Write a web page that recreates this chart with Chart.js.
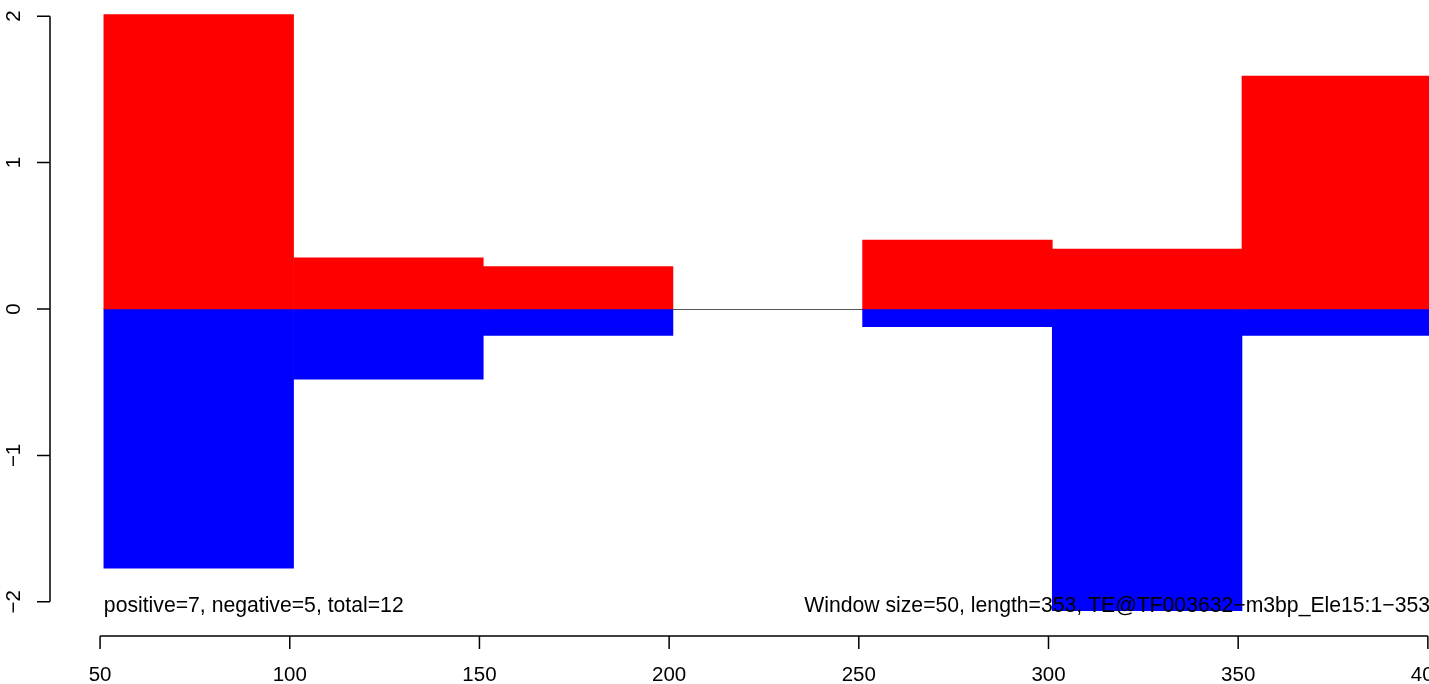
<!DOCTYPE html>
<html>
<head>
<meta charset="utf-8">
<script src="https://cdn.jsdelivr.net/npm/chart.js@4"></script>
<style>
  html, body { margin: 0; padding: 0; background: #fff; }
  #wrap { width: 1429px; height: 684px; }
</style>
</head>
<body>
<div id="wrap"><canvas id="myChart" width="1429" height="684"></canvas></div>
<script>
// windows of 50 bp
const windowStarts = [51, 101, 151, 201, 251, 301, 351];
const windowSize = 50;
const positiveVals = [2.01, 0.35, 0.29, 0, 0.47, 0.41, 1.59];
const negativeVals = [-1.77, -0.48, -0.18, 0, -0.12, -2.06, -0.18];
const xTicks = [50, 100, 150, 200, 250, 300, 350, 400];
const yTicks = [-2, -1, 0, 1, 2];
const leftNote = 'positive=7, negative=5, total=12';
const rightNote = 'Window size=50, length=353, TE@TF003632\u2212m3bp_Ele15:1\u2212353';

const TICK_FONT = '20.5px "Liberation Sans", Arial, sans-serif';
const NOTE_FONT = '21.2px "Liberation Sans", Arial, sans-serif';
const centres = windowStarts.map(s => s + windowSize / 2);

// R-style axes, zero line and notes
const rStyle = {
  id: 'rStyle',
  beforeDatasetsDraw(chart) {
    const ctx = chart.ctx, x = chart.scales.x, y = chart.scales.y;
    const y0 = Math.round(y.getPixelForValue(0)) + 0.5;
    ctx.save();
    ctx.strokeStyle = '#555';
    ctx.lineWidth = 1;
    ctx.beginPath();
    ctx.moveTo(x.getPixelForValue(windowStarts[0]), y0);
    ctx.lineTo(x.getPixelForValue(windowStarts[windowStarts.length - 1] + windowSize), y0);
    ctx.stroke();
    ctx.restore();
  },
  afterDatasetsDraw(chart) {
    const ctx = chart.ctx, x = chart.scales.x, y = chart.scales.y;
    ctx.save();
    ctx.strokeStyle = '#000';
    ctx.fillStyle = '#000';
    ctx.lineWidth = 1.5;
    ctx.font = TICK_FONT;

    // y axis
    const ax = 50;
    ctx.beginPath();
    ctx.moveTo(ax, y.getPixelForValue(yTicks[0]));
    ctx.lineTo(ax, y.getPixelForValue(yTicks[yTicks.length - 1]));
    yTicks.forEach(t => {
      const py = y.getPixelForValue(t);
      ctx.moveTo(ax, py);
      ctx.lineTo(ax - 13, py);
    });
    ctx.stroke();
    yTicks.forEach(t => {
      const py = y.getPixelForValue(t);
      ctx.save();
      ctx.translate(14, py);
      ctx.rotate(-Math.PI / 2);
      ctx.textAlign = 'center';
      ctx.textBaseline = 'middle';
      ctx.fillText(t < 0 ? '\u2212' + Math.abs(t) : String(t), 0, 0);
      ctx.restore();
    });

    // x axis
    const ay = 636;
    ctx.beginPath();
    ctx.moveTo(x.getPixelForValue(xTicks[0]), ay);
    ctx.lineTo(x.getPixelForValue(xTicks[xTicks.length - 1]), ay);
    xTicks.forEach(t => {
      const px = x.getPixelForValue(t);
      ctx.moveTo(px, ay);
      ctx.lineTo(px, ay + 13);
    });
    ctx.stroke();
    ctx.textAlign = 'center';
    ctx.textBaseline = 'middle';
    xTicks.forEach(t => {
      ctx.fillText(String(t), x.getPixelForValue(t), 675);
    });

    // notes
    ctx.font = NOTE_FONT;
    ctx.textBaseline = 'alphabetic';
    ctx.textAlign = 'left';
    ctx.fillText(leftNote, x.getPixelForValue(windowStarts[0]), 612);
    ctx.textAlign = 'right';
    ctx.fillText(rightNote, 1430, 612);
    ctx.restore();
  }
};

const ctx = document.getElementById('myChart').getContext('2d');
const myChart = new Chart(ctx, {
  type: 'bar',
  data: {
    datasets: [{
      label: 'positive',
      data: centres.map((c, i) => ({ x: c, y: positiveVals[i] || null })),
      backgroundColor: '#ff0000',
      borderWidth: 0
    }, {
      label: 'negative',
      data: centres.map((c, i) => ({ x: c, y: negativeVals[i] || null })),
      backgroundColor: '#0000ff',
      borderWidth: 0
    }]
  },
  options: {
    responsive: false,
    animation: false,
    devicePixelRatio: 1,
    barPercentage: 1,
    categoryPercentage: 1,
    layout: { padding: { left: 50, right: 0, top: 1.5, bottom: 67.5 } },
    plugins: { legend: { display: false }, tooltip: { enabled: false } },
    scales: {
      x: {
        type: 'linear', min: 36.8, max: 400.3, offset: false, stacked: true, display: false,
        // ticks on window centres so bar width = one window
        afterBuildTicks: scale => { scale.ticks = centres.map(v => ({ value: v })); }
      },
      y: { min: -2.1, max: 2.1, stacked: true, display: false }
    }
  },
  plugins: [rStyle]
});
</script>
</body>
</html>
